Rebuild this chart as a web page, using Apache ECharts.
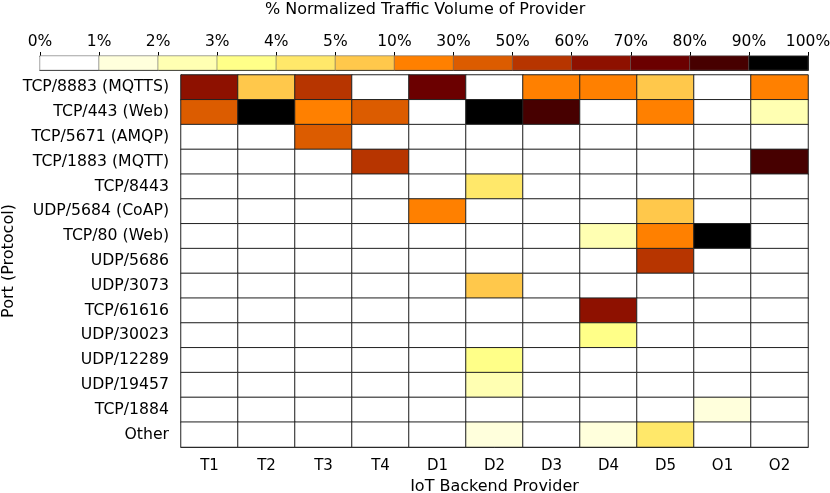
<!DOCTYPE html>
<html>
<head>
<meta charset="utf-8">
<script src="https://cdn.jsdelivr.net/npm/echarts@6/dist/echarts.min.js"></script>
<style>
  html, body { margin: 0; padding: 0; background: #fff; }
  #chart { width: 830px; height: 493px; }
</style>
</head>
<body>
<div id="chart"></div>
<script>
var providers = ['T1', 'T2', 'T3', 'T4', 'D1', 'D2', 'D3', 'D4', 'D5', 'O1', 'O2'];
var ports = ['TCP/8883 (MQTTS)', 'TCP/443 (Web)', 'TCP/5671 (AMQP)', 'TCP/1883 (MQTT)',
  'TCP/8443', 'UDP/5684 (CoAP)', 'TCP/80 (Web)', 'UDP/5686', 'UDP/3073', 'TCP/61616',
  'UDP/30023', 'UDP/12289', 'UDP/19457', 'TCP/1884', 'Other'];

// % of provider traffic, one row per port (columns follow providers)
var volume = [
  [65, 7, 55, 0, 75, 0, 20, 20, 7, 0, 20],
  [40, 95, 20, 40, 0, 95, 85, 0, 20, 0, 2.5],
  [0, 0, 40, 0, 0, 0, 0, 0, 0, 0, 0],
  [0, 0, 0, 55, 0, 0, 0, 0, 0, 0, 85],
  [0, 0, 0, 0, 0, 4.5, 0, 0, 0, 0, 0],
  [0, 0, 0, 0, 20, 0, 0, 0, 7, 0, 0],
  [0, 0, 0, 0, 0, 0, 0, 2.5, 20, 95, 0],
  [0, 0, 0, 0, 0, 0, 0, 0, 55, 0, 0],
  [0, 0, 0, 0, 0, 7, 0, 0, 0, 0, 0],
  [0, 0, 0, 0, 0, 0, 0, 65, 0, 0, 0],
  [0, 0, 0, 0, 0, 0, 0, 3.5, 0, 0, 0],
  [0, 0, 0, 0, 0, 3.5, 0, 0, 0, 0, 0],
  [0, 0, 0, 0, 0, 2.5, 0, 0, 0, 0, 0],
  [0, 0, 0, 0, 0, 0, 0, 0, 0, 1.5, 0],
  [0, 0, 0, 0, 0, 1.5, 0, 1.5, 4.5, 0, 0]
];

// colour bins of the scale
var binEdges = [0, 1, 2, 3, 4, 5, 10, 30, 50, 60, 70, 80, 90, 100];
var binColors = ['#ffffff', '#ffffdc', '#ffffb2', '#ffff88', '#ffe86a', '#ffc84b',
  '#ff8000', '#dc5c00', '#b73500', '#8e1100', '#6b0000', '#470000', '#000000'];

var chart = echarts.init(document.getElementById('chart'));

var cells = [];
for (var r = 0; r < ports.length; r++) {
  for (var c = 0; c < providers.length; c++) {
    cells.push([c, r, volume[r][c]]);
  }
}

var pieces = [];
var barCells = [];
var barCats = [];
for (var i = 0; i < binColors.length; i++) {
  var p = { gte: binEdges[i], color: binColors[i] };
  if (i === binColors.length - 1) p.lte = binEdges[i + 1]; else p.lt = binEdges[i + 1];
  pieces.push(p);
  barCats.push(String(i));
  barCells.push([i, 0, binEdges[i]]);
}

var font = 'DejaVu Sans';
var hidden = { show: false };

var option = {
  backgroundColor: '#fff',
  textStyle: { fontFamily: font },
  title: {
    text: '% Normalized Traffic Volume of Provider',
    left: 265,
    top: 2,
    padding: 0,
    textStyle: { fontFamily: font, fontSize: 16, fontWeight: 'normal', color: '#000' }
  },
  // y axis title, rotated
  graphic: [{
    type: 'text',
    x: 9,
    y: 261,
    rotation: Math.PI / 2,
    style: {
      text: 'Port (Protocol)',
      fontFamily: font,
      fontSize: 16,
      fill: '#000',
      align: 'center',
      verticalAlign: 'middle'
    }
  }],
  visualMap: {
    type: 'piecewise',
    show: false,
    pieces: pieces,
    seriesIndex: [0, 1]
  },
  grid: [
    { left: 181, right: 22, top: 75, bottom: 46, outerBoundsMode: 'none', containLabel: false },
    { left: 40, right: 22, top: 56, height: 14, outerBoundsMode: 'none', containLabel: false }
  ],
  xAxis: [{
    type: 'category',
    gridIndex: 0,
    data: providers,
    name: 'IoT Backend Provider',
    nameLocation: 'middle',
    nameGap: 32,
    nameTextStyle: { fontSize: 16, color: '#000' },
    axisLine: { lineStyle: { color: '#000' } },
    axisTick: { alignWithLabel: true, length: 7, lineStyle: { color: '#000' } },
    axisLabel: { fontSize: 15, color: '#000', margin: 12 },
    splitLine: { show: false }
  }, {
    // colour bar cells, bottom edge only
    type: 'category',
    gridIndex: 1,
    data: barCats,
    axisLine: { show: true, lineStyle: { color: '#000' } },
    axisTick: hidden,
    axisLabel: hidden,
    splitLine: hidden
  }, {
    type: 'value',
    gridIndex: 1,
    position: 'top',
    min: 0,
    max: 13,
    interval: 1,
    axisLine: { show: true, lineStyle: { color: '#000' } },
    axisTick: { show: true, length: 4, lineStyle: { color: '#000' } },
    axisLabel: {
      fontSize: 15.5, color: '#000', margin: 6,
      formatter: function (v) { return binEdges[v] + '%'; }
    },
    splitLine: { show: false }
  }],
  yAxis: [{
    type: 'category',
    gridIndex: 0,
    data: ports,
    inverse: true,
    axisLine: { lineStyle: { color: '#000' } },
    axisTick: { alignWithLabel: true, length: 7, lineStyle: { color: '#000' } },
    axisLabel: { fontSize: 15.7, color: '#000', margin: 12 },
    splitLine: { show: false }
  }, {
    type: 'category',
    gridIndex: 1,
    data: [''],
    position: 'left',
    axisLine: { show: true, lineStyle: { color: '#000' } },
    axisTick: hidden,
    axisLabel: hidden,
    splitLine: hidden
  }, {
    type: 'category',
    gridIndex: 1,
    data: [''],
    position: 'right',
    axisLine: { show: true, lineStyle: { color: '#000' } },
    axisTick: hidden,
    axisLabel: hidden,
    splitLine: hidden
  }],
  series: [{
    type: 'heatmap',
    xAxisIndex: 0,
    yAxisIndex: 0,
    data: cells,
    itemStyle: { borderColor: '#222', borderWidth: 1 },
    emphasis: { disabled: true }
  }, {
    type: 'heatmap',
    xAxisIndex: 1,
    yAxisIndex: 1,
    data: barCells,
    itemStyle: { borderColor: '#666', borderWidth: 0.6 },
    emphasis: { disabled: true }
  }]
};

chart.setOption(option);
</script>
</body>
</html>
